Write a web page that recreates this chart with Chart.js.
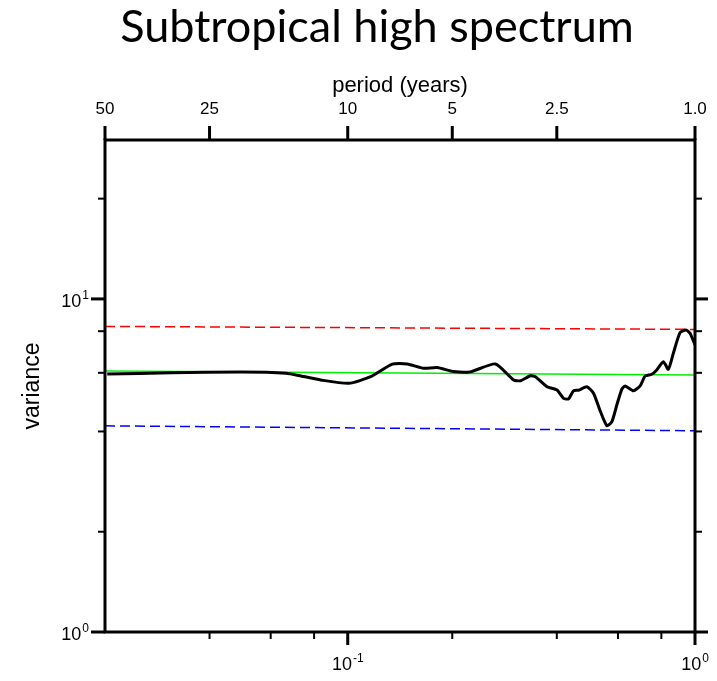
<!DOCTYPE html>
<html>
<head>
<meta charset="utf-8">
<script src="https://cdn.jsdelivr.net/npm/chart.js@4"></script>
<style>
  html, body { margin: 0; padding: 0; background: #fff; }
  canvas { display: block; }
</style>
</head>
<body>
<canvas id="spectrum" width="717" height="681"></canvas>
<script>
// spectrum (frequency in cycles/year, variance)
const freq = [0.0203, 0.031, 0.0493, 0.0664, 0.0733, 0.0836, 0.1007, 0.1165, 0.1344, 0.1484,
  0.1654, 0.181, 0.2017, 0.2257, 0.2662, 0.3004, 0.3142, 0.3357, 0.347, 0.3749,
  0.4006, 0.4183, 0.4324, 0.4468, 0.462, 0.4884, 0.5102, 0.5333, 0.5576, 0.5763,
  0.5957, 0.6157, 0.6291, 0.6648, 0.695, 0.7184, 0.7507, 0.7759, 0.8108, 0.8381,
  0.8662, 0.9055, 0.9422, 0.9674, 1.0];
const variance = [5.95, 6.0, 6.03, 5.98, 5.87, 5.71, 5.58, 5.84, 6.37, 6.38,
  6.19, 6.22, 6.05, 6.04, 6.38, 5.71, 5.68, 5.88, 5.84, 5.45,
  5.33, 5.03, 5.01, 5.3, 5.32, 5.45, 5.21, 4.61, 4.16, 4.28,
  4.81, 5.36, 5.48, 5.3, 5.48, 5.87, 5.94, 6.12, 6.48, 6.15,
  6.87, 7.92, 8.07, 7.89, 7.28];

// red noise fit and confidence bounds
const refFreq = [0.02, 1.0];
const upperBound = [8.27, 8.1];
const markovFit = [6.08, 5.91];
const lowerBound = [4.16, 4.02];

// axes
const topTickFreq = [0.02, 0.04, 0.1, 0.2, 0.4, 1.0];
const topTickLabels = ['50', '25', '10', '5', '2.5', '1.0'];
const xMajor = [0.1, 1];
const xMajorExp = ['-1', '0'];
const xMinor = [0.04, 0.06, 0.08, 0.2, 0.4, 0.6, 0.8];
const yMajor = [1, 10];
const yMajorExp = ['0', '1'];
const yMinor = [2, 4, 6, 8, 20];

const pts = (xs, ys) => xs.map((x, i) => ({ x: x, y: ys[i] }));

const sansFont = '"Liberation Sans", Arial, sans-serif';

function drawPow(ctx, exp, x, yBase, align) {
    ctx.font = '18px ' + sansFont;
    const wb = ctx.measureText('10').width;
    ctx.font = '12px ' + sansFont;
    const we = ctx.measureText(exp).width;
    const w = wb + we + 1;
    const start = align === 'right' ? x - w : x - w / 2;
    ctx.textAlign = 'left';
    ctx.font = '18px ' + sansFont;
    ctx.fillText('10', start, yBase);
    ctx.font = '12px ' + sansFont;
    ctx.fillText(exp, start + wb + 1, yBase - 8);
}

const framePlugin = {
    id: 'frame',
    afterDraw(chart) {
        const ctx = chart.ctx;
        const a = chart.chartArea;
        const x = chart.scales.x;
        const y = chart.scales.y;
        ctx.save();
        ctx.strokeStyle = '#000';
        ctx.fillStyle = '#000';

        // ticks
        const tick = (x1, y1, x2, y2, w) => {
            ctx.lineWidth = w;
            ctx.beginPath();
            ctx.moveTo(x1, y1);
            ctx.lineTo(x2, y2);
            ctx.stroke();
        };
        yMajor.forEach(v => {
            const py = y.getPixelForValue(v);
            tick(a.left - 14, py, a.left, py, 3);
            tick(a.right, py, a.right + 13, py, 3);
        });
        yMinor.forEach(v => {
            const py = y.getPixelForValue(v);
            tick(a.left - 7, py, a.left, py, 2);
            tick(a.right, py, a.right + 7, py, 2);
        });
        xMajor.forEach(v => {
            const px = x.getPixelForValue(v);
            tick(px, a.bottom, px, a.bottom + 13, 3);
        });
        xMinor.forEach(v => {
            const px = x.getPixelForValue(v);
            tick(px, a.bottom, px, a.bottom + 7, 2);
        });
        topTickFreq.forEach(v => {
            const px = x.getPixelForValue(v);
            tick(px, a.top - 14, px, a.top, 3);
        });

        // frame
        ctx.lineWidth = 3;
        ctx.strokeRect(a.left, a.top, a.right - a.left, a.bottom - a.top);

        // tick labels
        ctx.textBaseline = 'alphabetic';
        yMajor.forEach((v, i) => {
            drawPow(ctx, yMajorExp[i], 89, y.getPixelForValue(v) + 8, 'right');
        });
        xMajor.forEach((v, i) => {
            drawPow(ctx, xMajorExp[i], x.getPixelForValue(v), a.bottom + 38, 'center');
        });
        ctx.font = '17px ' + sansFont;
        ctx.textAlign = 'center';
        topTickFreq.forEach((v, i) => {
            ctx.fillText(topTickLabels[i], x.getPixelForValue(v), a.top - 26);
        });

        // axis titles
        ctx.font = '22px ' + sansFont;
        ctx.fillText('period (years)', (a.left + a.right) / 2, 92);
        ctx.save();
        ctx.translate(39, (a.top + a.bottom) / 2);
        ctx.rotate(-Math.PI / 2);
        ctx.font = '23px ' + sansFont;
        ctx.fillText('variance', 0, 0);
        ctx.restore();

        // title
        ctx.font = '45px Lato, "Open Sans", sans-serif';
        ctx.textAlign = 'center';
        ctx.fillText('Subtropical high spectrum', 377, 42);
        ctx.restore();
    }
};

new Chart(document.getElementById('spectrum').getContext('2d'), {
    type: 'line',
    data: {
        datasets: [
            {
                data: pts(freq, variance),
                borderColor: '#000',
                borderWidth: 3,
                pointRadius: 0,
                tension: 0.2
            },
            {
                data: pts(refFreq, upperBound),
                borderColor: '#ff0000',
                borderWidth: 1.5,
                borderDash: [10, 5],
                pointRadius: 0
            },
            {
                data: pts(refFreq, markovFit),
                borderColor: '#00ee00',
                borderWidth: 1.5,
                pointRadius: 0
            },
            {
                data: pts(refFreq, lowerBound),
                borderColor: '#0000ff',
                borderWidth: 1.5,
                borderDash: [10, 5],
                pointRadius: 0
            }
        ]
    },
    options: {
        responsive: false,
        animation: false,
        layout: { padding: { left: 105, top: 140, right: 22, bottom: 49 } },
        plugins: { legend: { display: false }, tooltip: { enabled: false } },
        scales: {
            x: { type: 'logarithmic', min: 0.02, max: 1, display: false },
            y: { type: 'logarithmic', min: 1, max: 30, display: false }
        }
    },
    plugins: [framePlugin]
});
</script>
</body>
</html>
